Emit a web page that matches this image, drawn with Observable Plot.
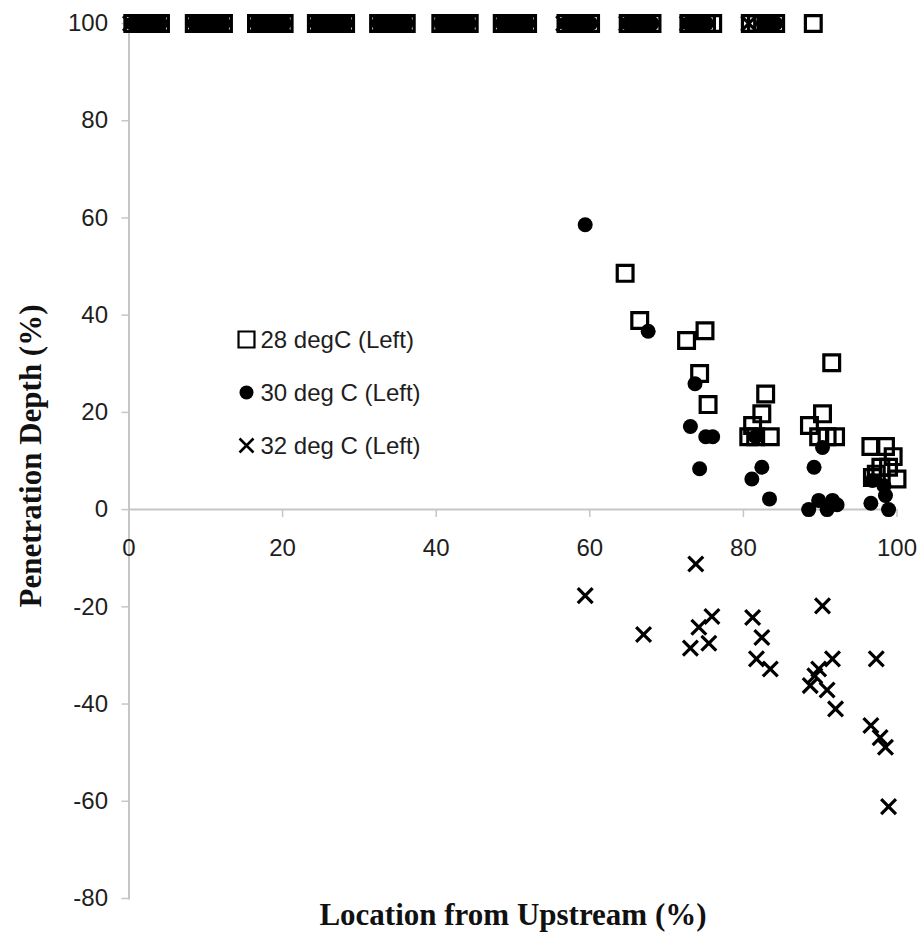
<!DOCTYPE html>
<html>
<head>
<meta charset="utf-8">
<script src="https://cdn.jsdelivr.net/npm/d3@7"></script>
<script src="https://cdn.jsdelivr.net/npm/@observablehq/plot@0.6"></script>
<style>
  html, body { margin: 0; padding: 0; background: #fff; }
</style>
</head>
<body>
<div id="chart"></div>
<script>
// ---- Data ----
const seriesNames = ["28 degC (Left)", "30 deg C (Left)", "32 deg C (Left)"];
const xTicks = [0, 20, 40, 60, 80, 100];
const yTicks = [-80, -60, -40, -20, 0, 20, 40, 60, 80, 100];
const xTitle = "Location from Upstream (%)";
const yTitle = "Penetration Depth (%)";

// points at full penetration (100 %)
const top28x = [0.5,1.4,2.3,3.2,4.1, 8.5,9.5,10.4,11.4,12.3, 16.6,17.5,18.4,19.3,20.2,
  24.4,25.4,26.3,27.3,28.2, 32.5,33.4,34.3,35.2,36.1, 40.6,41.5,42.5,43.4,44.3,
  48.6,49.4,50.3,51.1,51.9, 56.9,57.7,58.5,59.3,60.1, 65.0,65.8,66.6,67.4,68.1,
  72.9,73.7,74.5,75.2,76.0, 80.9,81.7,82.5,83.4,84.2, 89.1];
const top30x = [0.5,0.9,1.4,1.8,2.3,2.7,3.2,3.6,4.1, 8.5,9.0,9.5,9.9,10.4,10.9,11.4,11.8,12.3,
  16.6,17.0,17.5,17.9,18.4,18.8,19.3,19.7,20.2, 24.4,24.9,25.4,25.8,26.3,26.8,27.3,27.7,28.2,
  32.5,32.9,33.4,33.8,34.3,34.7,35.2,35.6,36.1, 40.6,41.0,41.5,42.0,42.5,42.9,43.4,43.8,44.3,
  48.6,49.0,49.4,49.9,50.3,50.7,51.1,51.5,51.9, 56.9,57.3,57.7,58.1,58.5,58.9,59.3,59.7,60.1,
  65.0,65.4,65.8,66.2,66.6,67.0,67.4,67.8,68.1, 72.9,74.1,75.2, 82.6,83.4,84.2];
const top32x = [0.2,2.3,3.8, 8.8,10.4,12.0, 16.9,18.4,19.9, 24.7,26.3,27.9, 32.8,34.3,35.8,
  40.9,42.5,44.0, 48.9,50.3,51.6, 56.6,58.4, 64.8,66.5, 72.7, 80.7];

// partial penetration points [x, y]
const s28 = [[64.6,48.6],[66.5,38.9],[72.6,34.8],[75.0,36.8],[74.3,28.0],[75.4,21.6],
  [82.9,23.8],[82.4,19.7],[81.2,17.3],[80.7,15.0],[81.6,15.0],[83.5,15.0],
  [91.5,30.2],[90.3,19.7],[88.6,17.3],[89.8,15.0],[90.9,15.0],[92.0,15.0],
  [96.6,13.0],[98.5,13.0],[99.5,10.9],[97.9,8.7],[98.9,8.7],[97.3,7.3],[96.8,6.6],[100.0,6.3]];
const s30 = [[59.4,58.6],[67.6,36.7],[73.7,25.9],[73.1,17.1],[75.1,15.0],[76.0,15.0],[74.3,8.4],
  [82.4,8.7],[81.1,6.3],[83.4,2.2],[81.6,15.0],
  [89.2,8.7],[90.3,12.8],[88.5,0],[89.8,1.9],[90.9,0],[91.6,1.9],[92.2,1.0],
  [96.6,1.3],[98.5,2.9],[98.9,0],[96.8,6.0],[98.3,4.9]];
const s32 = [[59.4,-17.7],[67.0,-25.7],[73.8,-11.2],[75.9,-22.0],[74.2,-24.2],[73.1,-28.5],[75.5,-27.5],
  [81.2,-22.2],[82.4,-26.3],[81.7,-30.7],[83.5,-32.8],
  [90.3,-19.8],[91.6,-30.7],[89.8,-32.8],[88.7,-36.2],[89.3,-34.2],[90.9,-37.1],[92.0,-41.0],
  [97.3,-30.7],[96.6,-44.4],[97.8,-46.9],[98.5,-48.9],[98.9,-61.1]];

// ---- Build tables ----
const pts = (arr) => arr.map(([x, y]) => ({x, y}));
const tops = (xs, y) => xs.map(x => ({x, y}));
const d28 = tops(top28x, 100).concat(pts(s28));
const d30 = tops(top30x, 100).concat(pts(s30));
const d32 = tops(top32x, 100).concat(pts(s32));

const axisGray = "#c6c6c6";
const textColor = "#1e1e1e";
const serif = "'Liberation Serif', 'Times New Roman', serif";

const squareStyle = {symbol: "square", r: 8.9, stroke: "black", strokeWidth: 3.2, fill: "none"};
const dotStyle = {symbol: "circle", r: 7.5, fill: "black", stroke: "none"};
const crossStyle = {symbol: "times", r: 6.8, stroke: "black", strokeWidth: 3.2};

// legend rows
const legendRows = [
  {name: seriesNames[0], dy: 316, style: {...squareStyle, r: 9, strokeWidth: 2.2}, len: 197},
  {name: seriesNames[1], dy: 369, style: {...dotStyle, r: 7}, len: 205},
  {name: seriesNames[2], dy: 422, style: {...crossStyle, r: 6.4, strokeWidth: 2.6}, len: 204}
];

const legendMarks = legendRows.flatMap(row => [
  Plot.dot([row], {frameAnchor: "top-left", dx: 117.5, dy: row.dy, ...row.style}),
  Plot.text([row], {frameAnchor: "top-left", dx: 131.5, dy: row.dy + 1, text: d => d.name,
    textAnchor: "start", lineAnchor: "middle", fontSize: 24, fill: textColor, ariaLabel: "legend-text"})
]);

const chart = Plot.plot({
  width: 924,
  height: 946,
  marginLeft: 128.5,
  marginRight: 27.5,
  marginTop: 23,
  marginBottom: 48,
  x: {domain: [0, 100], axis: null},
  y: {domain: [-80, 100], axis: null},
  style: {fontFamily: "'Liberation Sans', Arial, sans-serif", background: "#fff", overflow: "visible"},
  marks: [
    // axes
    Plot.frame({anchor: "left", stroke: axisGray, strokeWidth: 2}),
    Plot.ruleY([0], {stroke: axisGray, strokeWidth: 2}),
    Plot.ruleY(yTicks, {y: d => d, x1: 0, x2: 0, insetLeft: -7, stroke: axisGray, strokeWidth: 1.5}),
    Plot.ruleX(xTicks.slice(1), {x: d => d, y1: 0, y2: 0, insetBottom: -8, stroke: axisGray, strokeWidth: 1.5}),
    Plot.text(yTicks, {y: d => d, frameAnchor: "left", dx: -21, text: d => String(d),
      textAnchor: "end", lineAnchor: "middle", fontSize: 24, fill: textColor}),
    Plot.text(xTicks, {x: d => d, y: 0, dy: 39, text: d => String(d), fontSize: 24, fill: textColor}),
    // axis titles
    Plot.text([xTitle], {frameAnchor: "bottom", dy: 17, text: d => d, textAnchor: "middle", lineAnchor: "middle",
      fontSize: 31, fontWeight: "bold", fontFamily: serif, fill: "#111", ariaLabel: "x-title"}),
    Plot.text([yTitle], {frameAnchor: "left", dx: -97.5, dy: -5, rotate: -90, text: d => d,
      textAnchor: "middle", lineAnchor: "middle", fontSize: 31,
      fontWeight: "bold", fontFamily: serif, fill: "#111", ariaLabel: "y-title"}),
    // data
    Plot.dot(d28, {x: "x", y: "y", ...squareStyle}),
    Plot.dot(d30, {x: "x", y: "y", ...dotStyle}),
    Plot.dot(d32, {x: "x", y: "y", ...crossStyle}),
    // legend
    ...legendMarks
  ]
});

document.getElementById("chart").appendChild(chart);

// stretch texts horizontally as in the reference
const lens = legendRows.map(r => r.len);
chart.querySelectorAll('g[aria-label="legend-text"] text').forEach((t, i) => {
  t.setAttribute("textLength", lens[i]);
  t.setAttribute("lengthAdjust", "spacingAndGlyphs");
});
const fit = (label, len) => chart.querySelectorAll(`g[aria-label="${label}"] text`).forEach(t => {
  t.setAttribute("textLength", len);
  t.setAttribute("lengthAdjust", "spacingAndGlyphs");
});
fit("x-title", 389);
fit("y-title", 356);
</script>
</body>
</html>
